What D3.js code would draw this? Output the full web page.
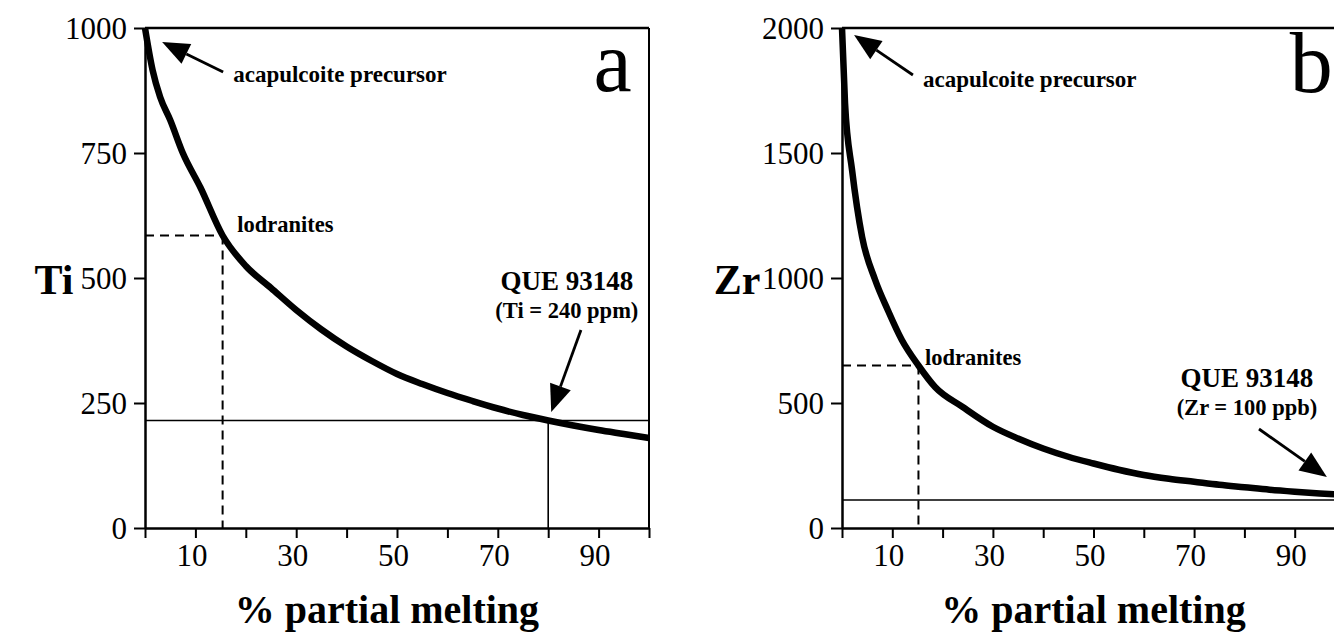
<!DOCTYPE html>
<html>
<head>
<meta charset="utf-8">
<script src="https://cdn.jsdelivr.net/npm/d3@7"></script>
<style>
  html, body { margin: 0; padding: 0; background: #fff; }
  svg { display: block; font-family: "Liberation Serif", "DejaVu Serif", serif; }
  .axis path, .axis line { stroke: #000; }
</style>
</head>
<body>
<div id="chart"></div>
<script>
// panel a: Ti (ppm) vs % partial melting
const meltA = [0, 1.5, 3, 5, 7.5, 11, 15.4, 20, 25, 30, 35, 40, 45, 50, 55, 60, 65, 70, 75, 80, 85, 90, 95, 100];
const tiValues = [1000, 916, 862, 816, 750, 681, 585, 524, 480, 436, 397, 363, 334, 308, 288, 270, 254, 239, 226, 215, 205, 196, 188, 180];

// panel b: Zr (ppb) vs % partial melting
const meltB = [0, 0.6, 2, 4, 6.6, 9.1, 11.9, 15.2, 18.5, 24, 30, 35, 40, 45, 50, 55, 60, 65, 70, 75, 80, 85, 90, 95, 98.5];
const zrValues = [2000, 1700, 1432, 1164, 992, 872, 752, 650, 564, 484, 405, 358, 318, 285, 258, 233, 212, 197, 185, 173, 163, 153, 145, 138, 134];

const xTicks = [0, 10, 20, 30, 40, 50, 60, 70, 80, 90, 100];
const xTickLabels = [10, 30, 50, 70, 90];
const yTicksA = [0, 250, 500, 750, 1000];
const yTicksB = [0, 500, 1000, 1500, 2000];

// reference points
const lodraniteA = [15.4, 585];
const queA = [80, 215];
const lodraniteB = [15.2, 650];
const queB = [null, 112];

const W = 1334, H = 637;
const svg = d3.select("#chart").append("svg").attr("width", W).attr("height", H);

function drawPanel(p) {
  const x = d3.scaleLinear().domain([0, 100]).range(p.xRange);
  const y = d3.scaleLinear().domain([0, p.yMax]).range([528, 28]);
  const g = svg.append("g");

  // top and right frame
  g.append("line").attr("x1", x(0)).attr("x2", x(100)).attr("y1", y(p.yMax)).attr("y2", y(p.yMax))
    .attr("stroke", "#000").attr("stroke-width", 2.5);
  g.append("line").attr("x1", x(100)).attr("x2", x(100)).attr("y1", y(0)).attr("y2", y(p.yMax))
    .attr("stroke", "#000").attr("stroke-width", 2);

  // axes
  const xAxis = g.append("g").attr("class", "axis").attr("transform", `translate(0,${y(0)})`)
    .call(d3.axisBottom(x).tickValues(xTicks).tickSize(10).tickSizeOuter(0)
      .tickFormat(d => xTickLabels.includes(d) ? d : ""));
  xAxis.select(".domain").attr("stroke-width", 2.5);
  xAxis.selectAll("line").attr("stroke-width", 2);
  xAxis.selectAll("text").attr("font-size", 31).attr("fill", "#000").attr("font-family", "Liberation Serif")
    .attr("y", 16).attr("dx", -4);

  const yAxis = g.append("g").attr("class", "axis").attr("transform", `translate(${x(0)},0)`)
    .call(d3.axisLeft(y).tickValues(p.yTicks).tickFormat(d3.format("d"))
      .tickSize(11).tickSizeOuter(0).tickPadding(7));
  yAxis.select(".domain").attr("stroke-width", 2.5);
  yAxis.selectAll("line").attr("stroke-width", 2);
  yAxis.selectAll("text").attr("font-size", 31).attr("fill", "#000").attr("font-family", "Liberation Serif")
    .attr("dy", "0.33em");

  // reference lines
  const dash = "9,6";
  g.append("line").attr("x1", x(0)).attr("x2", x(p.lod[0])).attr("y1", y(p.lod[1])).attr("y2", y(p.lod[1]))
    .attr("stroke", "#000").attr("stroke-width", 2).attr("stroke-dasharray", dash);
  g.append("line").attr("x1", x(p.lod[0])).attr("x2", x(p.lod[0])).attr("y1", y(p.lod[1])).attr("y2", y(0))
    .attr("stroke", "#000").attr("stroke-width", 2).attr("stroke-dasharray", dash);
  g.append("line").attr("x1", x(0)).attr("x2", x(100)).attr("y1", y(p.que[1])).attr("y2", y(p.que[1]))
    .attr("stroke", "#000").attr("stroke-width", 1.6);
  if (p.que[0] !== null) {
    g.append("line").attr("x1", x(p.que[0])).attr("x2", x(p.que[0])).attr("y1", y(p.que[1])).attr("y2", y(0))
      .attr("stroke", "#000").attr("stroke-width", 1.6);
  }

  // melting curve
  const line = d3.line().x((d, i) => x(p.xs[i])).y(d => y(d)).curve(d3.curveMonotoneX);
  g.append("path").datum(p.ys).attr("d", line)
    .attr("fill", "none").attr("stroke", "#000").attr("stroke-width", 6.5).attr("stroke-linejoin", "round");

  // arrows
  p.arrows.forEach(a => {
    const [tx, ty] = [x(a.tail[0]), y(a.tail[1])];
    const [hx, hy] = [x(a.tip[0]), y(a.tip[1])];
    const ang = Math.atan2(hy - ty, hx - tx);
    const L = 27, Wd = 11;
    const bx = hx - L * Math.cos(ang), by = hy - L * Math.sin(ang);
    g.append("line").attr("x1", tx).attr("y1", ty).attr("x2", bx).attr("y2", by)
      .attr("stroke", "#000").attr("stroke-width", 2.8);
    const pts = [[hx, hy],
      [bx + Wd * Math.sin(ang), by - Wd * Math.cos(ang)],
      [bx - Wd * Math.sin(ang), by + Wd * Math.cos(ang)]];
    g.append("polygon").attr("points", pts.map(q => q.join(",")).join(" ")).attr("fill", "#000");
  });

  // annotation text
  const txt = (vx, vy, s, size, weight, anchor) => g.append("text")
    .attr("x", x(vx)).attr("y", y(vy)).attr("font-size", size).attr("font-weight", weight)
    .attr("text-anchor", anchor || "start").text(s);
  txt(p.acapText[0], p.acapText[1], "acapulcoite precursor", 23, "bold");
  txt(p.lodText[0], p.lodText[1], "lodranites", 22.5, "bold");
  txt(p.queText[0], p.queText[1], "QUE 93148", 27, "bold", "middle");
  txt(p.queText[0], p.queText[2], p.queSub, 22.5, "bold", "middle");
  txt(p.letter[0], p.letter[1], p.letterText, 86, "normal");

  // axis titles
  g.append("text").attr("x", p.yTitleX).attr("y", 294).attr("font-size", 42).attr("font-weight", "bold")
    .attr("text-anchor", "middle").text(p.yTitle);
  g.append("text").attr("x", x(p.xTitleAt)).attr("y", 623).attr("font-size", 40).attr("font-weight", "bold")
    .attr("text-anchor", "middle").text("% partial melting");
}

drawPanel({
  xRange: [145, 649], yMax: 1000, yTicks: yTicksA,
  xs: meltA, ys: tiValues, lod: lodraniteA, que: queA,
  arrows: [{ tail: [15.5, 912], tip: [3.4, 972] }, { tail: [86.5, 396], tip: [80.6, 232] }],
  acapText: [17.5, 892], lodText: [18.3, 592], queText: [83.7, 476, 420], queSub: "(Ti = 240 ppm)",
  letter: [89, 874], letterText: "a", yTitle: "Ti", yTitleX: 54, xTitleAt: 48
});

drawPanel({
  xRange: [842, 1345], yMax: 2000, yTicks: yTicksB,
  xs: meltB, ys: zrValues, lod: lodraniteB, que: queB,
  arrows: [{ tail: [14.1, 1812], tip: [2.4, 1972] }, { tail: [82.9, 396], tip: [96.4, 204] }],
  acapText: [16.1, 1764], lodText: [16.5, 652], queText: [80.5, 564, 452], queSub: "(Zr = 100 ppb)",
  letter: [89, 1744], letterText: "b", yTitle: "Zr", yTitleX: 737, xTitleAt: 50
});
</script>
</body>
</html>
